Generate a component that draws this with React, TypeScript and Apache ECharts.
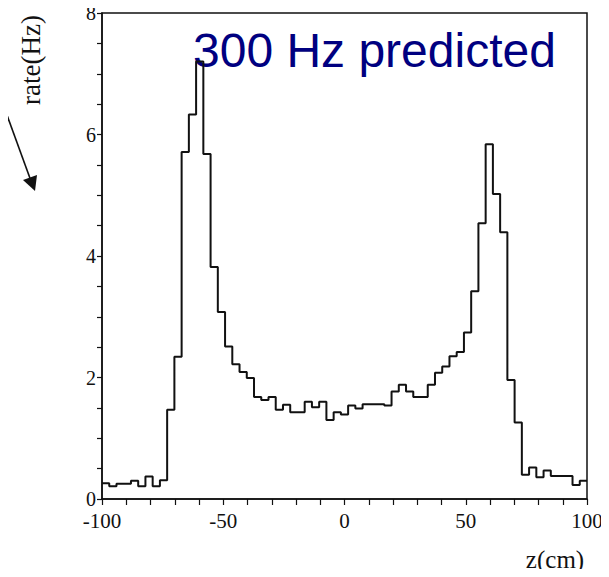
import React, { useEffect, useRef } from "react";
import * as echarts from "echarts";

// Histogram: 67 bins spanning z = -100 .. 100 cm
const binStart = -100;
const binEnd = 100;
const rates = [
  0.26, 0.21, 0.25, 0.25, 0.3, 0.21, 0.37, 0.21, 0.31, 1.47,
  2.34, 5.71, 6.33, 7.2, 5.68, 3.82, 3.08, 2.51, 2.22, 2.09,
  1.99, 1.68, 1.63, 1.68, 1.47, 1.55, 1.43, 1.43, 1.6, 1.51,
  1.6, 1.3, 1.43, 1.39, 1.54, 1.49, 1.56, 1.56, 1.56, 1.54,
  1.77, 1.88, 1.77, 1.68, 1.68, 1.88, 2.08, 2.18, 2.35, 2.42,
  2.74, 3.42, 4.54, 5.84, 5.02, 4.39, 1.96, 1.26, 0.4, 0.52,
  0.36, 0.47, 0.38, 0.38, 0.38, 0.23, 0.3,
];
const xTicks = [-100, -50, 0, 50, 100];
const yTicks = [0, 2, 4, 6, 8];
const annotation = "300 Hz predicted";
const yName = "rate(Hz)";
const xName = "z(cm)";

export default function App() {
  const ref = useRef<HTMLDivElement>(null);
  useEffect(() => {
    if (!ref.current) return;
    const chart = echarts.init(ref.current, null, { renderer: "svg" });
    const w = (binEnd - binStart) / rates.length;
    const pts: number[][] = rates.map((v, i) => [binStart + i * w, v]);
    pts.push([binEnd, rates[rates.length - 1]]);
    const serif = "'Liberation Serif', 'DejaVu Serif', serif";
    chart.setOption({
      animation: false,
      backgroundColor: "#ffffff",
      grid: {
        left: 102,
        top: 13,
        right: 22,
        bottom: 78,
        show: true,
        borderColor: "#111",
        borderWidth: 1.5,
        backgroundColor: "transparent",
      },
      xAxis: {
        type: "value",
        min: xTicks[0],
        max: xTicks[xTicks.length - 1],
        interval: 50,
        axisLine: { show: true, onZero: false, lineStyle: { color: "#111", width: 1.5 } },
        axisTick: { show: true, inside: false, length: 6, lineStyle: { color: "#111", width: 1.2 } },
        minorTick: { show: true, splitNumber: 5, length: 6, lineStyle: { color: "#111", width: 1.2 } },
        splitLine: { show: false },
        axisLabel: {
          fontFamily: serif,
          fontSize: 21,
          color: "#111",
          margin: 11,
          showMinLabel: true,
          showMaxLabel: true,
        },
      },
      yAxis: {
        type: "value",
        min: yTicks[0],
        max: yTicks[yTicks.length - 1],
        interval: 2,
        axisLine: { show: true, onZero: false, lineStyle: { color: "#111", width: 1.5 } },
        axisTick: { show: true, inside: false, length: 5, lineStyle: { color: "#111", width: 1.2 } },
        minorTick: { show: true, splitNumber: 4, length: 5, lineStyle: { color: "#111", width: 1.2 } },
        splitLine: { show: false },
        axisLabel: {
          fontFamily: serif,
          fontSize: 20,
          color: "#111",
          margin: 6,
        },
      },
      series: [
        {
          type: "line",
          step: "end",
          data: pts,
          symbol: "none",
          lineStyle: { color: "#111", width: 2 },
        },
      ],
      graphic: [
        {
          type: "text",
          left: 193,
          top: 26,
          style: {
            text: annotation,
            font: "48px 'Liberation Sans', Arial, sans-serif",
            fill: "#000080",
          },
        },
        {
          type: "text",
          x: 31,
          y: 60,
          rotation: Math.PI / 2,
          style: {
            text: yName,
            font: "27px 'Liberation Serif', serif",
            fill: "#111",
            textAlign: "center",
            textVerticalAlign: "middle",
          },
        },
        {
          type: "text",
          x: 555,
          y: 559,
          style: {
            text: xName,
            font: "25px 'Liberation Serif', serif",
            fill: "#111",
            textAlign: "center",
            textVerticalAlign: "middle",
          },
        },
        {
          type: "line",
          shape: { x1: 0, y1: 96, x2: 31, y2: 181 },
          style: { stroke: "#111", lineWidth: 1.6 },
        },
        {
          type: "polygon",
          shape: { points: [[35, 191], [23, 180], [37, 175]] },
          style: { fill: "#111" },
        },
      ],
    });
    return () => chart.dispose();
  }, []);
  return <div ref={ref} style={{ width: 609, height: 577, margin: -8 }} />;
}
